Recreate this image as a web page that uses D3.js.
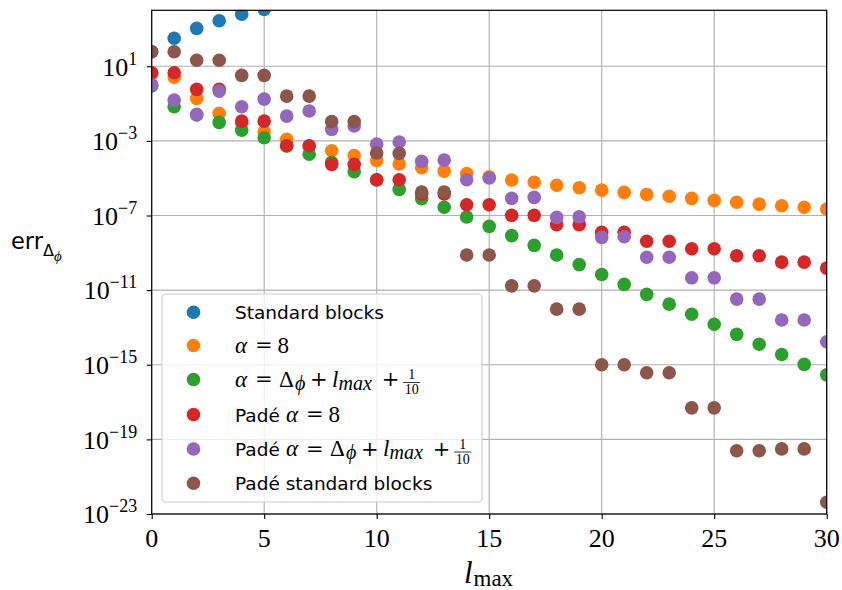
<!DOCTYPE html>
<html>
<head>
<meta charset="utf-8">
<script src="https://cdn.jsdelivr.net/npm/d3@7"></script>
<style>
  body { margin: 0; background: #fff; }
</style>
</head>
<body>
<script>
// SVG size
var svgWidth = 842;
var svgHeight = 590;

// Plot area margins
var margin = { top: 10.3, right: 15.3, bottom: 76, left: 151.7 };
var chartWidth = svgWidth - margin.left - margin.right;
var chartHeight = svgHeight - margin.top - margin.bottom;

// l_max values on the x axis
var lmax = [0, 1, 2, 3, 4, 5, 6, 7, 8, 9, 10, 11, 12, 13, 14, 15, 16, 17, 18, 19, 20,
            21, 22, 23, 24, 25, 26, 27, 28, 29, 30];

// log10 of err for each series (only the points that show on the chart)
var standardBlocks = [1.78, 2.50, 3.03, 3.44, 3.79, 4.05];
var alpha8 = [0.60, 0.42, -0.72, -1.52, -2.05, -2.51, -2.92, -3.28, -3.53, -3.78, -4.05,
  -4.24, -4.44, -4.62, -4.75, -4.93, -5.10, -5.22, -5.38, -5.51, -5.64,
  -5.76, -5.87, -5.97, -6.08, -6.19, -6.29, -6.39, -6.48, -6.56, -6.65];
var alphaVar = [-0.05, -1.17, -1.61, -2.01, -2.43, -2.83, -3.27, -3.71, -4.15, -4.65, -5.10,
  -5.60, -6.10, -6.56, -7.08, -7.58, -8.08, -8.60, -9.12, -9.63, -10.16,
  -10.69, -11.23, -11.75, -12.29, -12.83, -13.37, -13.90, -14.45, -14.98, -15.54];
var padeAlpha8 = [0.65, 0.65, -0.24, -0.24, -1.94, -1.94, -3.26, -3.26, -4.26, -4.26, -5.08,
  -5.08, -5.85, -5.85, -6.42, -6.42, -6.99, -6.99, -7.49, -7.49, -7.90,
  -7.90, -8.38, -8.38, -8.78, -8.78, -9.16, -9.16, -9.50, -9.50, -9.82];
var padeAlphaVar = [0.00, -0.81, -1.58, -0.33, -1.17, -0.76, -1.67, -1.40, -2.38, -2.20, -3.17,
  -3.06, -4.10, -4.03, -5.08, -4.99, -6.08, -6.03, -7.10, -7.07, -8.17,
  -8.14, -9.24, -9.24, -10.34, -10.34, -11.48, -11.48, -12.60, -12.60, -13.77];
var padeStandard = [1.78, 1.78, 1.32, 1.32, 0.51, 0.51, -0.60, -0.60, -1.97, -1.97, -3.65,
  -3.67, -5.74, -5.74, -9.12, -9.12, -10.77, -10.77, -12.02, -12.02, -15.00,
  -15.00, -15.43, -15.43, -17.31, -17.31, -19.61, -19.61, -19.51, -19.51, -22.37];

// tick values
var xTicks = [0, 5, 10, 15, 20, 25, 30];
var yTickExps = [1, -3, -7, -11, -15, -19, -23];

var colors = ["#1f77b4", "#ff7f0e", "#2ca02c", "#d62728", "#9467bd", "#8c564b"];
var series = [standardBlocks, alpha8, alphaVar, padeAlpha8, padeAlphaVar, padeStandard];

var serif = "'Liberation Serif', 'DejaVu Serif', serif";
var opFont = "'DejaVu Serif', serif";
var sans = "'DejaVu Sans', sans-serif";

var svg = d3.select("body")
  .append("svg")
  .attr("width", svgWidth)
  .attr("height", svgHeight);

var chartGroup = svg.append("g")
  .attr("transform", `translate(${margin.left}, ${margin.top})`);

var xScale = d3.scaleLinear()
  .domain([0, 30])
  .range([0, chartWidth]);

var yScale = d3.scaleLog()
  .domain([1e-23, 1e4])
  .range([chartHeight, 0]);

// grid
chartGroup.append("g")
  .selectAll("line")
  .data(xTicks)
  .join("line")
  .attr("x1", d => xScale(d)).attr("x2", d => xScale(d))
  .attr("y1", 0).attr("y2", chartHeight)
  .attr("stroke", "#b0b0b0").attr("stroke-width", 1.1);

chartGroup.append("g")
  .selectAll("line")
  .data(yTickExps)
  .join("line")
  .attr("y1", d => yScale(Math.pow(10, d))).attr("y2", d => yScale(Math.pow(10, d)))
  .attr("x1", 0).attr("x2", chartWidth)
  .attr("stroke", "#b0b0b0").attr("stroke-width", 1.1);

// clip for scatter
svg.append("defs").append("clipPath").attr("id", "clip")
  .append("rect").attr("width", chartWidth).attr("height", chartHeight);

var dots = chartGroup.append("g").attr("clip-path", "url(#clip)");
series.forEach(function(vals, i) {
  var pts = vals.map((v, j) => ({ l: lmax[j], v: v }));
  dots.append("g")
    .selectAll("circle")
    .data(pts)
    .join("circle")
    .attr("cx", d => xScale(d.l))
    .attr("cy", d => yScale(Math.pow(10, d.v)))
    .attr("r", 6.8)
    .attr("fill", colors[i]);
});

// axes (ticks only, labels drawn below)
var bottomAxis = d3.axisBottom(xScale).tickValues(xTicks).tickSize(5).tickFormat("");
var leftAxis = d3.axisLeft(yScale).tickValues(yTickExps.map(e => Math.pow(10, e))).tickSize(5).tickFormat("");

chartGroup.append("g")
  .attr("transform", `translate(0, ${chartHeight})`)
  .call(bottomAxis)
  .call(g => g.select(".domain").remove())
  .call(g => g.selectAll("line").attr("stroke", "#000").attr("stroke-width", 1.1));

chartGroup.append("g")
  .call(leftAxis)
  .call(g => g.select(".domain").remove())
  .call(g => g.selectAll("line").attr("stroke", "#000").attr("stroke-width", 1.1));

// frame
chartGroup.append("rect")
  .attr("width", chartWidth).attr("height", chartHeight)
  .attr("fill", "none").attr("stroke", "#000").attr("stroke-width", 1.2);

// x tick labels
chartGroup.append("g")
  .selectAll("text")
  .data(xTicks)
  .join("text")
  .attr("x", d => xScale(d))
  .attr("y", chartHeight + 33)
  .attr("text-anchor", "middle")
  .attr("font-family", serif)
  .attr("font-size", 26)
  .text(d => d);

// y tick labels with superscripts
yTickExps.forEach(function(e) {
  var t = chartGroup.append("text")
    .attr("x", -14.5)
    .attr("y", yScale(Math.pow(10, e)) + 9.3)
    .attr("text-anchor", "end")
    .attr("font-family", serif)
    .attr("font-size", 26);
  t.append("tspan").text("10");
  t.append("tspan").attr("dy", -11).attr("font-size", 18)
    .text(e < 0 ? "\u2212" + (-e) : e);
});

// x label
var xl = svg.append("text")
  .attr("x", 488.5).attr("y", 583)
  .attr("text-anchor", "middle")
  .attr("font-family", serif);
xl.append("tspan").attr("font-style", "italic").attr("font-size", 31).text("l");
xl.append("tspan").attr("dx", 1).attr("dy", 3).attr("font-size", 23).text("max");

// y label
var yl = svg.append("text")
  .attr("x", 11).attr("y", 249.3)
  .attr("font-family", sans)
  .attr("font-size", 22.5);
yl.append("tspan").text("err");
yl.append("tspan").attr("dy", 7).attr("font-family", sans).attr("font-size", 16).text("\u0394");
yl.append("tspan").attr("dy", 5).attr("font-family", serif).attr("font-style", "italic").attr("font-size", 15).text("\u03d5");

// legend
var legend = svg.append("g");
legend.append("rect")
  .attr("x", 162).attr("y", 294)
  .attr("width", 320).attr("height", 208)
  .attr("rx", 4)
  .attr("fill", "#fff").attr("fill-opacity", 0.8)
  .attr("stroke", "#cccccc").attr("stroke-width", 1.1);

var legendRows = [312.3, 345.5, 379.5, 414.5, 449, 483.3];

// label pieces: [text, kind, x offset from the start of the math part]
var alpha8Pieces = [["\u03b1", "m", 0], ["=", "op", 20], ["8", "r", 42.5]];
var alphaVarPieces = [["\u03b1", "m", 0], ["=", "op", 20], ["\u0394", "r", 44], ["\u03d5", "sub", 60],
  ["+", "op", 75], ["l", "m", 97], ["max", "sub", 103.5], ["+", "op", 146.7], ["", "frac", 176.7]];
var legendLabels = [
  { text: "Standard blocks", math: [] },
  { text: "", math: alpha8Pieces },
  { text: "", math: alphaVarPieces },
  { text: "Pad\u00e9", math: alpha8Pieces },
  { text: "Pad\u00e9", math: alphaVarPieces },
  { text: "Pad\u00e9 standard blocks", math: [] }
];

legendLabels.forEach(function(lab, i) {
  var y = legendRows[i];
  var x0 = 235;
  legend.append("circle")
    .attr("cx", 193.5).attr("cy", y)
    .attr("r", 6.8).attr("fill", colors[i]);
  if (lab.text) {
    legend.append("text")
      .attr("x", x0).attr("y", y + 7)
      .attr("font-family", sans).attr("font-size", 18.5)
      .text(lab.text);
  }
  var mx = lab.text ? x0 + 51 : x0;
  lab.math.forEach(function(p) {
    var x = mx + p[2];
    if (p[1] === "frac") {
      legend.append("text").attr("x", x).attr("y", y - 0.5)
        .attr("text-anchor", "middle").attr("font-family", serif).attr("font-size", 14).text("1");
      legend.append("line").attr("x1", x - 8.5).attr("x2", x + 8.5)
        .attr("y1", y + 3).attr("y2", y + 3).attr("stroke", "#000").attr("stroke-width", 0.8);
      legend.append("text").attr("x", x).attr("y", y + 14.5)
        .attr("text-anchor", "middle").attr("font-family", serif).attr("font-size", 14).text("10");
      return;
    }
    var t = legend.append("text").attr("x", x).attr("y", y + 7).text(p[0]);
    if (p[1] === "m") t.attr("font-family", serif).attr("font-style", "italic").attr("font-size", 23);
    if (p[1] === "r") t.attr("font-family", serif).attr("font-size", 23);
    if (p[1] === "op") t.attr("font-family", opFont).attr("font-size", 21).attr("y", y + 6.5);
    if (p[1] === "sub") t.attr("font-family", serif).attr("font-style", "italic").attr("font-size", 20).attr("y", y + 10);
  });
});
</script>
</body>
</html>
